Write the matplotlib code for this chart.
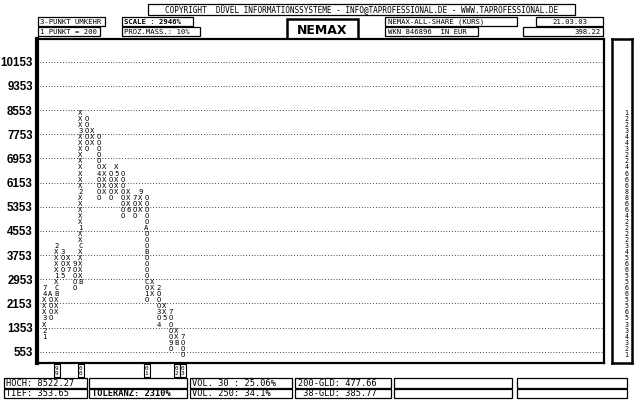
import matplotlib
matplotlib.use('Agg')
import matplotlib.pyplot as plt
from matplotlib.patches import Rectangle

# Point & Figure Chart NEMAX-ALL-SHARE, 3-Punkt-Umkehr, 1 Punkt = 200
box = 200

# Saeulen: Typ, tiefster und hoechster Kasten (Kurs)
col_kind = ['X', 'O', 'X', 'O', 'X', 'O', 'X', 'O', 'X', 'O', 'X', 'O',
            'X', 'O', 'X', 'O', 'X', 'O', 'X', 'O', 'X', 'O', 'X', 'O']
col_low = [953, 1553, 1753, 2953, 3153, 2553, 2753, 7153, 7353, 5553, 5753, 5553,
           5753, 4953, 5153, 4953, 5153, 2153, 2353, 1353, 1553, 553, 753, 353]
col_high = [2553, 2353, 3953, 3753, 3553, 3353, 8353, 8153, 7753, 7553, 6553, 6353,
            6553, 6353, 5753, 5553, 5753, 5553, 2753, 2553, 1953, 1753, 1153, 953]

# Monatsmarken (Spalte, Kurs, Zeichen)
months = [(1, 953, '1'), (1, 1153, '2'), (1, 1553, '3'), (1, 2353, '4'), (1, 2553, '7'),
          (2, 2353, 'A'),
          (3, 2353, 'B'), (3, 2553, 'C'), (3, 2953, '1'), (3, 3953, '2'),
          (4, 3753, '3'), (4, 2953, '5'),
          (5, 3153, '7'),
          (6, 3353, '9'),
          (7, 2753, 'B'), (7, 3953, 'C'), (7, 4553, '1'), (7, 5753, '2'), (7, 7753, '3'),
          (10, 6353, '4'),
          (13, 6353, '5'),
          (15, 5153, '6'),
          (16, 5553, '7'),
          (17, 5753, '9'),
          (18, 4553, 'A'), (18, 3753, 'B'), (18, 2753, 'C'), (18, 2353, '1'),
          (20, 2553, '2'), (20, 1753, '3'), (20, 1353, '4'),
          (21, 1553, '5'),
          (22, 1753, '7'), (22, 753, '9'),
          (23, 753, 'B'),
          (24, 953, '7')]

# Jahresmarken unter dem Chart
years = [(3, '99'), (7, '00'), (18, '01'), (23, '02'), (24, '03')]

grid_levels = [553, 1353, 2153, 2953, 3753, 4553, 5353, 6153, 6953, 7753, 8553, 9353, 10153]

W, H = 640, 400
mono = 'DejaVu Sans Mono'


def frac(x0, y0, x1, y1):
    return [x0 / W, 1 - y1 / H, (x1 - x0) / W, (y1 - y0) / H]


fig = plt.figure(figsize=(6.4, 4), dpi=100)
fig.patch.set_facecolor('white')

# Hintergrund fuer Kopf- und Fusszeilen (Pixelkoordinaten)
bg = fig.add_axes([0, 0, 1, 1])
bg.set_xlim(0, W)
bg.set_ylim(H, 0)
bg.axis('off')


def feld(x0, y0, x1, y1, txt='', bold=False, size=5.2, ha='left', lw=0.9, fam=mono):
    bg.add_patch(Rectangle((x0, y0), x1 - x0, y1 - y0, fill=False, lw=lw, ec='black'))
    if txt:
        if ha == 'left':
            tx = x0 + 2.5
        elif ha == 'right':
            tx = x1 - 2.5
        else:
            tx = (x0 + x1) / 2
        bg.text(tx, (y0 + y1) / 2 + 0.5, txt, ha=ha, va='center', fontsize=size,
                family=fam, fontweight='bold' if bold else 'normal')


feld(148, 4, 575, 15, 'COPYRIGHT  DÜVEL INFORMATIONSSYSTEME - INFO@TAPROFESSIONAL.DE - WWW.TAPROFESSIONAL.DE',
     ha='center', size=5.6)
feld(38, 17, 105, 26, '3-PUNKT UMKEHR')
feld(38, 27, 100, 36, '1 PUNKT = 200')
feld(122, 17, 193, 26, 'SCALE : 2946%', bold=True)
feld(122, 27, 200, 36, 'PROZ.MASS.: 10%')
feld(287, 19, 358, 42, 'NEMAX', bold=True, size=9, ha='center', lw=1.8, fam='DejaVu Sans')
feld(385, 17, 517, 26, 'NEMAX-ALL-SHARE (KURS)')
feld(385, 27, 478, 36, 'WKN 846896  IN EUR')
feld(536, 17, 603, 26, '21.03.03', ha='center')
feld(523, 27, 603, 36, '398.22', ha='right')

# Fusszeile
feld(4, 378, 87, 388, 'HOCH: 8522.27', size=6.2)
feld(4, 389, 87, 398, 'TIEF: 353.65', size=6.2)
feld(89, 378, 187, 388)
feld(89, 389, 187, 398, 'TOLERANZ: 2310%', bold=True, size=6.2)
feld(190, 378, 292, 388, 'VOL. 30 : 25.06%', size=6.2)
feld(190, 389, 292, 398, 'VOL. 250: 34.1%', size=6.2)
feld(295, 378, 391, 388, '200-GLD: 477.66', size=6.2)
feld(295, 389, 391, 398, ' 38-GLD: 385.77', size=6.2)
feld(394, 378, 512, 388)
feld(394, 389, 512, 398)
feld(517, 378, 627, 388)
feld(517, 389, 627, 398)

# Haupt-Chart
ax = fig.add_axes(frac(37, 39, 604, 363))
ax.set_xlim(-0.25, 94.25)
ax.set_ylim(179, 10907)
ax.set_xticks([])
ax.set_yticks(grid_levels)
ax.set_yticklabels([str(g) for g in grid_levels], fontsize=8.3, fontweight='bold',
                   family='Liberation Sans')
ax.tick_params(axis='y', length=0, pad=3)
for s in ax.spines.values():
    s.set_linewidth(1.6)
ax.spines['left'].set_linewidth(3)
ax.hlines(grid_levels, 0.2, 93.9, colors='black', linewidth=0.7,
          linestyles=(0, (0.7, 2.2)))

marks = {(c, p): m for c, p, m in months}
for i, kind in enumerate(col_kind):
    c = i + 1
    p = col_low[i]
    while p <= col_high[i]:
        ch = marks.get((c, p), kind)
        ax.text(c, p + box / 2, ch, ha='center', va='center', fontsize=5.2,
                family=mono, zorder=3)
        p += box

# Jahresmarken
for c, yr in years:
    ax.add_patch(Rectangle((c - 0.5, -0.044), 1.0, 0.04, transform=ax.get_xaxis_transform(),
                           fill=False, lw=0.8, ec='black', clip_on=False))
    ax.text(c, -0.024, yr[0] + '\n' + yr[1], transform=ax.get_xaxis_transform(),
            ha='center', va='center', fontsize=4.3, family=mono, linespacing=0.95)

# Haeufigkeit je Zeile (rechte Leiste)
side = fig.add_axes(frac(612, 39, 632, 363))
side.set_xlim(0, 1)
side.set_ylim(ax.get_ylim())
side.set_xticks([])
side.set_yticks([])
for s in side.spines.values():
    s.set_linewidth(1.8)
p = min(col_low)
while p <= max(col_high):
    n = sum(1 for i in range(len(col_kind)) if col_low[i] <= p <= col_high[i])
    if n:
        side.text(0.72, p + box / 2, str(n), ha='center', va='center', fontsize=4.8, family=mono)
    p += box

fig.savefig('out.png', dpi=100)
